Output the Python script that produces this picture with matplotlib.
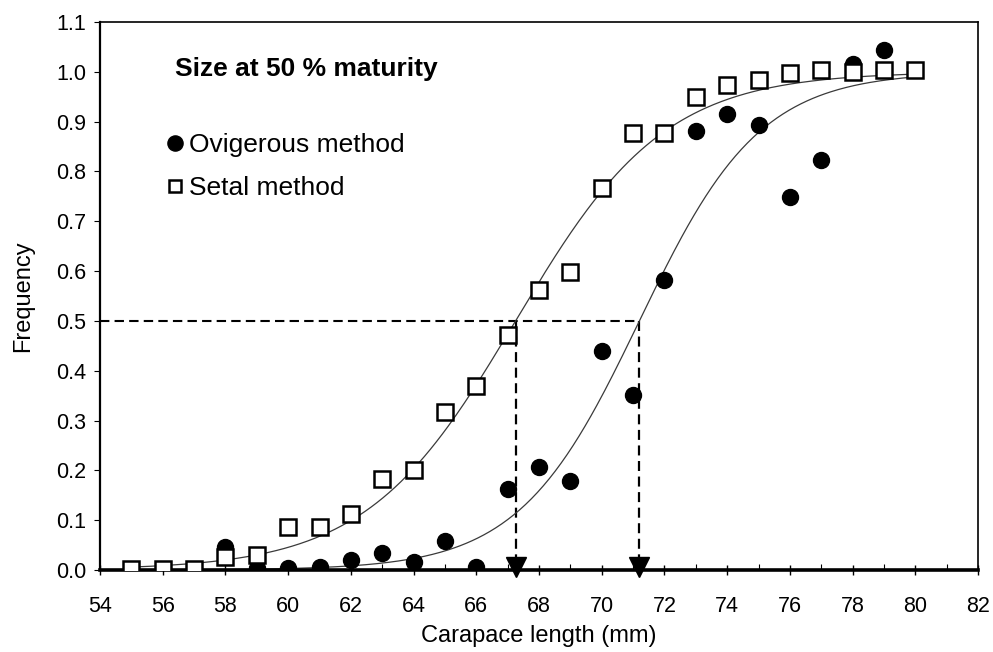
import matplotlib
matplotlib.use("Agg")
import matplotlib.pyplot as plt
import numpy as np

plt.rcParams['font.family'] = ['Liberation Sans', 'DejaVu Sans']

# Carapace length classes (mm)
setal_x = [55, 56, 57, 58, 59, 60, 61, 62, 63, 64, 65, 66, 67, 68, 69, 70, 71, 72, 73, 74, 75, 76, 77, 78, 79, 80]
setal_y = [0.002, 0.002, 0.002, 0.027, 0.03, 0.087, 0.086, 0.112, 0.183, 0.2, 0.317, 0.369, 0.472, 0.562,
           0.598, 0.767, 0.877, 0.877, 0.95, 0.973, 0.984, 0.997, 1.004, 1.0, 1.004, 1.004]

ovig_x = [58, 59, 60, 61, 62, 63, 64, 65, 66, 67, 68, 69, 70, 71, 72, 73, 74, 75, 76, 77, 78, 79]
ovig_y = [0.047, 0.003, 0.004, 0.005, 0.02, 0.035, 0.017, 0.058, 0.006, 0.163, 0.207, 0.179, 0.44, 0.352,
          0.582, 0.882, 0.916, 0.894, 0.748, 0.822, 1.016, 1.044]

# fitted logistic curves: size at 50 % maturity and slope
setal_l50, setal_k = 67.25, 0.42
ovig_l50, ovig_k = 71.2, 0.52


def logistic(x, l50, k):
    return 1.0 / (1.0 + np.exp(-k * (x - l50)))


fig = plt.figure(figsize=(9.93, 6.52), dpi=100)
ax = fig.add_axes([0.1007, 0.1258, 0.8843, 0.8405])

xf = np.linspace(55, 80.2, 400)
ax.plot(xf, logistic(xf, setal_l50, setal_k), color='#3a3a3a', lw=0.9, zorder=2)
ax.plot(xf, logistic(xf, ovig_l50, ovig_k), color='#3a3a3a', lw=0.9, zorder=2)

# 50 % guide lines
dash = (0, (4.5, 2.5))
ax.plot([54, ovig_l50], [0.5, 0.5], color='black', lw=1.5, ls=dash, zorder=1)
for l50 in (setal_l50, ovig_l50):
    ax.plot([l50, l50], [0.5, 0.0], color='black', lw=1.6, ls=dash, zorder=1)
ax.plot([setal_l50, ovig_l50], [0.006, 0.006], ls='none', marker='v', color='black',
        markersize=15, zorder=5, clip_on=False)

ax.plot(ovig_x, ovig_y, ls='none', marker='o', color='black', markersize=11.5,
        label='Ovigerous method', zorder=3)
ax.plot(setal_x, setal_y, ls='none', marker='s', markerfacecolor='white', markeredgecolor='black',
        markeredgewidth=1.8, markersize=11, label='Setal method', zorder=4)

ax.set_xlim(54, 82)
ax.set_ylim(0, 1.1)
ax.set_xticks(np.arange(54, 83, 2))
ax.set_xticks(np.arange(54, 83, 1), minor=True)
ax.set_yticks(np.round(np.arange(0, 1.11, 0.1), 1))
ax.yaxis.set_major_formatter(matplotlib.ticker.FormatStrFormatter('%.1f'))
ax.tick_params(axis='x', which='major', direction='inout', length=7, width=1, labelsize=15.5, pad=15)
ax.tick_params(axis='x', which='minor', direction='in', length=4, width=0.8)
ax.tick_params(axis='y', direction='out', length=4, width=0.8, labelsize=15.5, pad=6)

for side in ('top', 'right'):
    ax.spines[side].set_linewidth(1.2)
ax.spines['left'].set_linewidth(1.6)
ax.spines['bottom'].set_linewidth(2.6)

ax.set_xlabel('Carapace length (mm)', fontsize=17, labelpad=6)
ax.set_ylabel('Frequency', fontsize=17, labelpad=16)

ax.text(0.085, 0.914, 'Size at 50 % maturity', transform=ax.transAxes, fontsize=19,
        fontweight='bold', va='center', ha='left')

leg = ax.legend(loc='upper left', bbox_to_anchor=(0.077, 0.797), frameon=False, fontsize=19,
                handlelength=0.55, handletextpad=0.25, labelspacing=0.72, borderpad=0,
                borderaxespad=0, markerscale=0.95)
leg.legend_handles[1].set_markersize(9)

fig.savefig('out.png', dpi=100)
